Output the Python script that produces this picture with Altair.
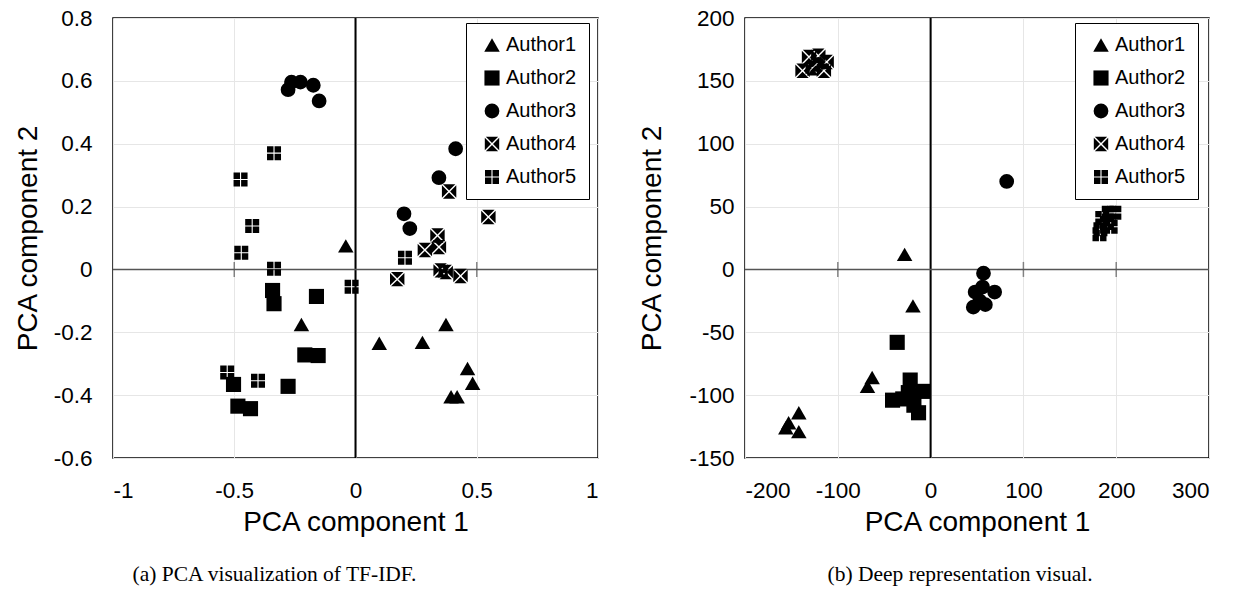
import altair as alt
import pandas as pd

AUTHORS = ["Author1", "Author2", "Author3", "Author4", "Author5"]

# ---------- panel (a): PCA of TF-IDF ----------
a1_x = [-0.04, -0.223, 0.098, 0.276, 0.373, 0.462, 0.483, 0.394, 0.419]
a1_y = [0.075, -0.175, -0.235, -0.232, -0.175, -0.315, -0.362, -0.405, -0.405]
a2_x = [-0.342, -0.336, -0.161, -0.209, -0.154, -0.503, -0.278, -0.485, -0.433]
a2_y = [-0.067, -0.109, -0.086, -0.272, -0.274, -0.366, -0.372, -0.435, -0.443]
a3_x = [-0.278, -0.264, -0.227, -0.174, -0.15, 0.2, 0.224, 0.344, 0.413]
a3_y = [0.572, 0.596, 0.596, 0.586, 0.536, 0.177, 0.13, 0.292, 0.384]
a4_x = [0.386, 0.548, 0.338, 0.344, 0.286, 0.172, 0.351, 0.372, 0.433]
a4_y = [0.248, 0.167, 0.108, 0.071, 0.062, -0.031, -0.003, -0.008, -0.021]
a5_x = [-0.336, -0.474, -0.426, -0.471, -0.336, -0.016, -0.529, -0.402, 0.204]
a5_y = [0.37, 0.286, 0.138, 0.053, 0.002, -0.055, -0.328, -0.354, 0.037]

# ---------- panel (b): deep representation ----------
b1_x = [-28, -19, -63, -68, -142, -153, -156, -142]
b1_y = [12, -29, -86, -93, -114, -122, -126, -129]
b2_x = [-36, -22, -41, -30, -24, -8, -18, -13, -20]
b2_y = [-58, -88, -104, -103, -98, -97, -108, -114, -100]
b3_x = [82, 57, 56, 69, 48, 46, 59, 53]
b3_y = [70, -3, -14, -18, -18, -30, -28, -25]
b4_x = [-131, -121, -112, -138, -127, -115, -124]
b4_y = [169, 170, 165, 158, 160, 158, 163]
b5_x = [192, 198, 185, 190, 183, 194, 182]
b5_y = [45, 45, 41, 37, 32, 34, 28]

a_xticks = [-1, -0.5, 0, 0.5, 1]
a_yticks = [-0.6, -0.4, -0.2, 0, 0.2, 0.4, 0.6, 0.8]
b_xticks = [-200, -100, 0, 100, 200, 300]
b_yticks = [-150, -100, -50, 0, 50, 100, 150, 200]
a_cross = [-0.5, 0.5]
b_cross = [-100, 100, 200]


def frame(xs_list, ys_list):
    rows = []
    for name, xs, ys in zip(AUTHORS, xs_list, ys_list):
        for xv, yv in zip(xs, ys):
            rows.append({"x": xv, "y": yv, "author": name})
    return pd.DataFrame(rows)


df_a = frame([a1_x, a2_x, a3_x, a4_x, a5_x], [a1_y, a2_y, a3_y, a4_y, a5_y])
df_b = frame([b1_x, b2_x, b3_x, b4_x, b5_x], [b1_y, b2_y, b3_y, b4_y, b5_y])

# square with white "X" cut out (4 triangles) and square with white "+" cut out (4 squares)
X_SQ = ("M-0.86,-1L0.86,-1L0,-0.14Z M1,-0.86L1,0.86L0.14,0Z "
        "M0.86,1L-0.86,1L0,0.14Z M-1,0.86L-1,-0.86L-0.14,0Z")
P_SQ = ("M-1,-1H-0.08V-0.08H-1Z M0.08,-1H1V-0.08H0.08Z "
        "M-1,0.08H-0.08V1H-1Z M0.08,0.08H1V1H0.08Z")
SHAPES = ["triangle-up", "square", "circle", X_SQ, P_SQ]
SIZES = [240, 196, 150, 180, 180]


def lbl():
    return "'' + datum.value"


def panel(df, xdom, xticks, ydom, yticks, cross, w, caption, dx, legx,
          ylabpad, ytitlepad):
    xe = alt.X("x:Q", scale=alt.Scale(domain=xdom, nice=False, zero=False),
               axis=alt.Axis(values=xticks, title="PCA component 1",
                             labelExpr=lbl(), labelPadding=21, titlePadding=7))
    ye = alt.Y("y:Q", scale=alt.Scale(domain=ydom, nice=False, zero=False),
               axis=alt.Axis(values=yticks, title="PCA component 2",
                             labelExpr=lbl(), labelPadding=ylabpad,
                             titlePadding=ytitlepad))
    hrule = alt.Chart(pd.DataFrame({"y": [0]})).mark_rule(
        color="#555555", strokeWidth=1.5).encode(y="y:Q")
    vrule = alt.Chart(pd.DataFrame({"x": [0]})).mark_rule(
        color="black", strokeWidth=2).encode(x="x:Q")
    ticks = alt.Chart(pd.DataFrame({"x": cross, "y": [0] * len(cross)})).mark_tick(
        orient="vertical", size=15, thickness=1.5, color="#555555").encode(
        x="x:Q", y="y:Q")
    pts = alt.Chart(df).mark_point(filled=True, opacity=1, color="black").encode(
        x=xe, y=ye,
        shape=alt.Shape("author:N", scale=alt.Scale(domain=AUTHORS, range=SHAPES),
                        legend=alt.Legend(orient="none", legendX=legx, legendY=5,
                                          title=None)),
        size=alt.Size("author:N", scale=alt.Scale(domain=AUTHORS, range=SIZES),
                      legend=alt.Legend(orient="none", legendX=legx, legendY=5,
                                        title=None)),
    )
    return alt.layer(vrule, hrule, ticks, pts).properties(
        width=w, height=440,
        title=alt.TitleParams(text=caption, orient="bottom", anchor="middle",
                              frame="group", font="Liberation Serif",
                              fontSize=21.5, fontWeight="normal", color="black",
                              offset=27, dx=dx),
    )


left = panel(df_a, [-1, 1], a_xticks, [-0.6, 0.8], a_yticks, a_cross, 485,
             "(a)  PCA visualization of TF-IDF.", -81, 353, 21, 11)
right = panel(df_b, [-200, 300], b_xticks, [-150, 200], b_yticks, b_cross, 464,
              "(b)  Deep representation visual.", -17, 330, 11, 22)

chart = alt.hconcat(left, right, spacing=38).resolve_scale(
    shape="independent", size="independent"
).resolve_legend(
    shape="independent", size="independent"
).properties(
    padding={"left": 13, "top": 6, "right": 5, "bottom": 5}
).configure_view(stroke="black", strokeWidth=1.5).configure_axis(
    grid=True, gridColor="#e6e6e6", gridWidth=1, domain=False, ticks=False,
    labelFont="Liberation Sans", labelFontSize=22.5, labelColor="black",
    titleFont="Liberation Sans", titleFontSize=28, titleFontWeight="normal",
    titleColor="black",
).configure_legend(
    strokeColor="black", strokeWidth=1, fillColor="white", padding=12,
    symbolOffset=4, labelOffset=4, rowPadding=13, labelFontSize=20,
    labelFont="Liberation Sans", labelColor="black", symbolFillColor="black",
    symbolStrokeColor="black", symbolStrokeWidth=0, symbolOpacity=1,
)

chart.save("out.html", embed_options={"renderer": "svg", "actions": False})
